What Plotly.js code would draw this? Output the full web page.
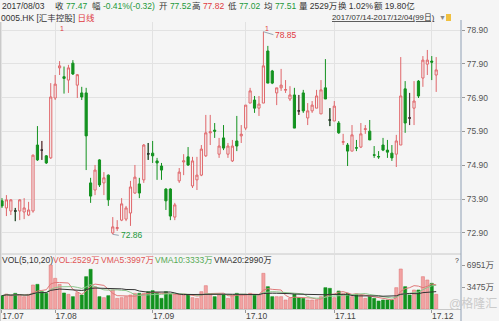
<!DOCTYPE html>
<html><head><meta charset="utf-8">
<script src="https://cdn.plot.ly/plotly-3.0.1.min.js"></script>
<style>html,body{margin:0;padding:0;background:#f5f5f5;}#chart{width:499px;height:321px;}</style>
</head><body><div id="chart"></div>
<script>
const dates = [
'2017-07-14','2017-07-17','2017-07-18','2017-07-19','2017-07-20','2017-07-21','2017-07-24','2017-07-25','2017-07-26','2017-07-27','2017-07-28','2017-07-31',
'2017-08-01','2017-08-02','2017-08-03','2017-08-04','2017-08-07','2017-08-08','2017-08-09','2017-08-10','2017-08-11','2017-08-14','2017-08-15','2017-08-16','2017-08-17','2017-08-18','2017-08-21','2017-08-22','2017-08-24','2017-08-25','2017-08-28','2017-08-29','2017-08-30','2017-08-31',
'2017-09-01','2017-09-04','2017-09-05','2017-09-06','2017-09-07','2017-09-08','2017-09-11','2017-09-12','2017-09-13','2017-09-14','2017-09-15','2017-09-18','2017-09-19','2017-09-20','2017-09-21','2017-09-22','2017-09-25','2017-09-26','2017-09-27','2017-09-28','2017-09-29',
'2017-10-03','2017-10-04','2017-10-06','2017-10-09','2017-10-10','2017-10-11','2017-10-12','2017-10-13','2017-10-16','2017-10-17','2017-10-18','2017-10-19','2017-10-20','2017-10-23','2017-10-24','2017-10-25','2017-10-26','2017-10-27','2017-10-30','2017-10-31',
'2017-11-01','2017-11-02','2017-11-03','2017-11-06','2017-11-07','2017-11-08','2017-11-09','2017-11-10','2017-11-13','2017-11-14','2017-11-15','2017-11-16','2017-11-17','2017-11-20','2017-11-21','2017-11-22','2017-11-23','2017-11-24','2017-11-27','2017-11-28','2017-11-29','2017-11-30',
'2017-12-01','2017-12-04'];

const open = [73.85,73.64,73.55,73.55,73.55,73.52,73.43,73.55,75.50,75.35,75.18,75.12,76.89,77.78,77.52,77.42,77.92,77.27,77.04,77.04,
74.38,74.17,75.06,74.38,74.61,72.90,73.03,73.28,73.31,73.49,74.08,74.35,74.47,75.24,75.26,75.03,74.88,74.20,74.20,73.37,
74.44,75.00,75.15,74.29,74.47,74.61,75.18,75.86,75.94,75.23,75.71,75.23,75.03,75.62,75.77,76.00,76.74,76.83,76.59,76.74,
78.28,77.69,77.04,77.19,77.12,76.86,76.98,76.51,77.04,76.30,76.51,76.59,76.42,77.19,76.24,76.21,76.15,75.58,75.50,75.32,
75.42,75.44,75.96,75.91,75.21,75.16,75.50,75.35,75.26,75.23,75.50,77.16,76.30,76.59,77.39,77.48,77.89,77.98,77.57];
const high = [73.93,74.02,73.90,73.64,73.90,73.93,73.82,75.22,76.06,75.62,75.20,77.33,77.57,77.98,77.82,77.87,78.01,77.60,77.22,77.19,
74.53,74.91,75.08,74.70,74.63,73.37,73.28,73.93,73.70,74.44,74.91,74.53,75.53,75.56,75.62,75.12,74.97,74.22,74.22,73.79,
74.82,75.23,75.44,75.15,75.15,75.50,76.39,76.39,76.15,75.71,76.09,75.56,75.65,76.36,76.09,76.68,77.19,76.95,76.95,78.85,
78.43,77.72,77.19,77.75,77.42,77.24,77.19,76.98,77.13,76.74,76.80,77.13,77.42,78.04,76.59,76.80,76.21,75.83,75.56,76.09,
75.65,76.15,76.09,76.24,75.47,75.32,75.71,75.65,75.50,75.80,78.10,77.39,77.04,77.39,77.42,78.13,78.31,78.13,78.10];
const low = [73.64,73.40,73.43,73.25,73.28,73.31,73.40,73.50,75.03,75.06,74.94,75.09,76.83,77.57,77.02,77.04,77.57,76.89,76.83,74.76,
73.79,74.02,74.26,74.02,73.70,72.86,72.96,73.25,73.25,73.11,74.06,73.93,74.38,75.06,74.97,74.47,74.47,73.58,73.28,73.28,
74.38,74.61,74.88,74.23,74.17,74.58,75.15,75.50,75.71,75.12,75.35,75.12,75.00,75.32,75.56,75.94,76.74,76.45,76.36,76.74,
77.33,77.30,76.68,77.10,77.04,76.80,76.00,76.39,76.45,76.09,76.45,76.59,76.42,76.86,76.06,76.21,75.83,75.50,74.88,75.32,
75.32,75.41,75.83,75.65,75.12,75.09,75.32,75.12,75.03,74.85,75.50,75.86,76.09,76.09,76.89,77.22,77.57,77.42,77.07];
const close = [73.70,73.88,73.88,73.55,73.88,73.64,73.58,75.20,75.06,75.35,74.97,76.92,77.30,77.84,77.47,77.78,77.60,77.58,76.92,75.77,
73.99,74.76,74.32,74.53,73.88,73.08,73.06,73.76,73.64,74.26,74.55,74.08,75.50,75.24,75.18,74.97,74.76,73.85,73.40,73.73,
74.70,75.03,74.91,75.03,74.61,75.38,75.86,75.89,75.91,75.47,75.41,75.47,75.47,75.47,75.82,76.68,77.10,76.59,76.71,77.84,
77.33,77.33,77.19,77.27,77.14,76.98,76.00,76.51,76.51,76.51,76.68,76.95,77.13,76.86,76.24,76.65,75.86,75.60,75.32,75.80,
75.41,75.83,75.98,75.65,75.20,75.15,75.35,75.29,75.12,75.62,76.95,76.15,76.30,76.80,76.95,78.01,78.01,77.95,77.72];
// volume in 万股
const volume = [2107,2370,2107,2475,2212,1949,2317,3791,3897,2738,2475,6951,4845,3897,2529,2317,1949,2580,2212,5108,
6267,3528,1949,1791,2107,3002,1685,1791,1949,2212,2475,2475,2475,2738,2897,2475,1685,2738,2317,2317,
2317,2212,2212,1791,1685,2738,3686,2317,1949,2212,2317,1685,2212,2475,2317,2317,2475,2212,2212,5635,
3528,1949,1949,1949,1422,1685,2317,1791,1685,1422,1422,1422,1949,3370,3265,1791,2844,2475,2475,1949,
2317,2212,1685,1949,1685,1264,1422,1422,1422,3370,6320,3528,2212,3002,3002,5108,4581,4055,2317];

const tickDates = ['2017-07-14','2017-08-01','2017-09-01','2017-10-03','2017-11-01','2017-12-01'];
const tickLabels = ['17.07','17.08','17.09','17.10','17.11','17.12'];
const priceTicks = [72.90,73.90,74.90,75.90,76.90,77.90,78.90];
const volTicks = [3475,6951];
const volTickLabels = ['3475万','6951万'];

const FONT = "'Liberation Sans','Noto Sans CJK SC',sans-serif";
const RED = '#e0666a', GREEN = '#13921f', TRED = '#e0393e', TGREEN = '#22983a';
const BG = '#f5f5f5', GRID = '#e2e2e2';

function vma(n){return volume.map((v,i)=>{const s=volume.slice(Math.max(0,i-n+1),i+1);return s.reduce((a,b)=>a+b,0)/s.length;});}

const dojiIdx = dates.map((d,i)=>i).filter(i=>open[i]===close[i]);
const pick = (arr,idx)=>idx.map(i=>arr[i]);

const traces = [
 {type:'candlestick', x:dates, open:open, high:high, low:low, close:close, xaxis:'x', yaxis:'y',
  increasing:{line:{color:RED,width:1}, fillcolor:BG}, decreasing:{line:{color:GREEN,width:1}, fillcolor:GREEN},
  whiskerwidth:0, hoverinfo:'skip'},
 {type:'candlestick', x:pick(dates,dojiIdx), open:pick(open,dojiIdx), high:pick(high,dojiIdx), low:pick(low,dojiIdx), close:pick(close,dojiIdx),
  xaxis:'x', yaxis:'y', increasing:{line:{color:'#333',width:1}, fillcolor:'#333'}, decreasing:{line:{color:'#333',width:1}, fillcolor:'#333'}, hoverinfo:'skip'},
 {type:'bar', x:dates, y:volume, xaxis:'x', yaxis:'y2',
  marker:{color:close.map((c,i)=>c>open[i]?'#f2a3a3':GREEN), line:{color:close.map((c,i)=>c>open[i]?'#e07a7a':GREEN), width:0.6}}, hoverinfo:'skip'},
 {type:'scatter', mode:'lines', x:dates, y:vma(5), xaxis:'x', yaxis:'y2', line:{color:'#e07878',width:1}, hoverinfo:'skip'},
 {type:'scatter', mode:'lines', x:dates, y:vma(10), xaxis:'x', yaxis:'y2', line:{color:'#8cc68c',width:1}, hoverinfo:'skip'},
 {type:'scatter', mode:'lines', x:dates, y:vma(20), xaxis:'x', yaxis:'y2', line:{color:'#333333',width:1}, hoverinfo:'skip'}
];

const W=461, H=321;
const px = x=>x/W, py = y=>1-y/H;
function note(x,y,text,opt){return Object.assign({xref:'paper',yref:'paper',x:px(x),y:py(y),text:text,showarrow:false,xanchor:'left',yanchor:'middle',font:{family:FONT,size:8.5,color:'#333'}},opt||{});}
const g = s=>'<span style="color:'+TGREEN+'">'+s+'</span>';
const r = s=>'<span style="color:'+TRED+'">'+s+'</span>';

let hiI = high.indexOf(Math.max(...high)), loI = low.indexOf(Math.min(...low));

const annotations = [
 note(0,6,'2017/08/03'),
 note(53,6,'收 '+g('77.47')),
 note(90,6,'幅 '+g('-0.41%(-0.32)')),
 note(157,6,'开 '+g('77.52')),
 note(190,6,'高 '+r('77.82')),
 note(226,6,'低 '+g('77.02')),
 note(262,6,'均 '+g('77.51')),
 note(297,6,'量 2529万'),
 note(336,6,'换 1.02%'),
 note(372,6,'额 19.80亿'),
 note(-1,18,'0005.HK [汇丰控股] '+r('日线')),
 note(330,17,'2017/07/14-2017/12/04(99日)',{font:{family:FONT,size:7.8,color:'#333',lineposition:'under'}}),
 note(437,17,'▼',{font:{family:FONT,size:7,color:'#888'}}),
 note(62,28,'1',{xanchor:'center',font:{family:FONT,size:7,color:TRED}}),
 note(267,28,'1',{xanchor:'center',font:{family:FONT,size:7,color:TRED}}),
 note(0,260,'VOL(5,10,20)'),
 note(51,260,'VOL:2529万',{font:{family:FONT,size:8.5,color:'#e05555'}}),
 note(99,260,'VMA5:3997万',{font:{family:FONT,size:8.5,color:'#e05555'}}),
 note(153,260,'VMA10:3333万',{font:{family:FONT,size:8.5,color:'#55aa55'}}),
 note(212,260,'VMA20:2990万'),
 note(457,260,'?',{xanchor:'center',font:{family:FONT,size:7,color:'#333'}}),
 note(473,303,'@格隆汇',{xanchor:'center',font:{family:FONT,size:12,color:'#cbcbcb'}}),
 {xref:'x',yref:'y',x:dates[hiI],y:high[hiI],text:high[hiI].toFixed(2),showarrow:true,arrowhead:0,arrowwidth:0.8,arrowcolor:'#7f8fa0',ax:10,ay:3,xanchor:'left',yanchor:'middle',font:{family:FONT,size:8.5,color:TRED}},
 {xref:'x',yref:'y',x:dates[loI],y:low[loI],text:low[loI].toFixed(2),showarrow:true,arrowhead:0,arrowwidth:0.8,arrowcolor:'#7f8fa0',ax:6,ay:1,xanchor:'left',yanchor:'middle',font:{family:FONT,size:8.5,color:TGREEN}}
];

const shapes = [
 {type:'line',xref:'paper',yref:'paper',x0:0,x1:1,y0:py(254),y1:py(254),line:{color:'#c8c8c8',width:1}},
 {type:'line',xref:'paper',yref:'paper',x0:1,x1:1,y0:0,y1:py(20),line:{color:'#8fa0b5',width:1}},
 {type:'line',xref:'paper',yref:'paper',x0:0.001,x1:0.001,y0:0,y1:py(22),line:{color:'#c8c8c8',width:1}},
 {type:'rect',xref:'paper',yref:'paper',x0:px(446),x1:px(451),y0:py(21),y1:py(14),fillcolor:'#f0c040',line:{width:0}}
];

const layout = {
 width:499, height:321, margin:{l:0,r:38,t:0,b:0},
 paper_bgcolor:BG, plot_bgcolor:BG, showlegend:false,
 font:{family:FONT,size:8.5,color:'#444'},
 bargap:0.3,
 xaxis:{type:'category', anchor:'y2', range:[-0.45,103.6], tickvals:tickDates, ticktext:tickLabels,
  ticks:'outside', ticklen:3, tickcolor:'#999', showgrid:true, gridcolor:GRID, showline:true, linecolor:'#c8c8c8',
  rangeslider:{visible:false}, ticklabelshift:11, ticklabelstandoff:-4, tickfont:{family:FONT,size:8.5,color:'#444'}, zeroline:false},
 yaxis:{domain:[1-253/H,1-22/H], range:[72.3083,79.1365], side:'right', tickvals:priceTicks, ticktext:priceTicks.map(v=>v.toFixed(2)),
  ticks:'outside', ticklen:3, tickcolor:'#999', showgrid:true, gridcolor:GRID, showline:false, zeroline:false,
  tickfont:{family:FONT,size:8.5,color:'#555'}},
 yaxis2:{domain:[1-309/H,1-255/H], range:[0,8531], side:'right', tickvals:volTicks, ticktext:volTickLabels,
  ticks:'outside', ticklen:3, tickcolor:'#999', showgrid:false, showline:false, zeroline:false,
  tickfont:{family:FONT,size:8.5,color:'#555'}},
 annotations:annotations, shapes:shapes
};

Plotly.newPlot('chart', traces, layout, {displayModeBar:false, staticPlot:true});
</script></body></html>
